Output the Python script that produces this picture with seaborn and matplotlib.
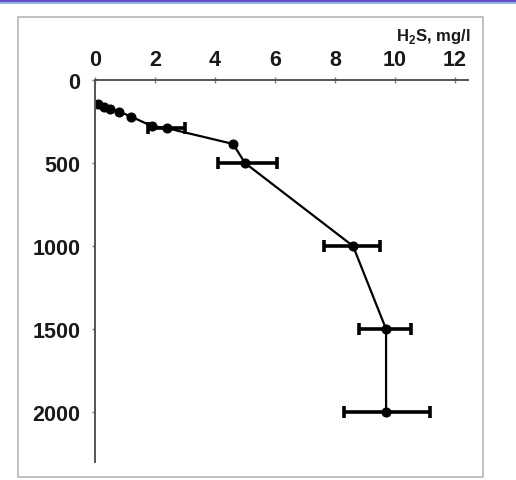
import numpy as np
import pandas as pd
import matplotlib.pyplot as plt
import seaborn as sns
from matplotlib.patches import Rectangle

# H2S concentration profile (mg/l) against depth (m)
depth = [145, 160, 175, 190, 220, 278, 290, 385, 500, 1000, 1500, 2000]
h2s = [0.1, 0.3, 0.5, 0.8, 1.2, 1.9, 2.4, 4.6, 5.0, 8.6, 9.7, 9.7]

# horizontal error bars (range of values) at selected depths
err_depth = [290, 500, 1000, 1500, 2000]
err_center = [2.4, 5.0, 8.6, 9.7, 9.7]
err_low = [1.77, 4.1, 7.63, 8.8, 8.3]
err_high = [3.0, 6.07, 9.5, 10.53, 11.17]

x_ticks = [0, 2, 4, 6, 8, 10, 12]
y_ticks = [0, 500, 1000, 1500, 2000]

sns.set_style("white")
plt.rcParams['font.family'] = ['Liberation Sans', 'DejaVu Sans']

W, H = 516, 481
fig = plt.figure(figsize=(W / 100, H / 100), dpi=100)

# outer frame and top colour band
fig.patches.append(Rectangle((18 / W, 1 - 478 / H), (483 - 18) / W, (478 - 18) / H,
                             transform=fig.transFigure, fill=False,
                             edgecolor='#b5b5b5', linewidth=1.2))
fig.patches.append(Rectangle((0, 1 - 2.5 / H), 1, 2.5 / H, transform=fig.transFigure,
                             color='#6a4cc8', linewidth=0))
fig.patches.append(Rectangle((0, 1 - 4.5 / H), 1, 2 / H, transform=fig.transFigure,
                             color='#8fb8e6', linewidth=0))

ax = fig.add_axes([95 / W, 1 - 463 / H, 373 / W, 382 / H])

df = pd.DataFrame({'h2s': h2s, 'depth': depth})
sns.lineplot(data=df, x='h2s', y='depth', sort=False, estimator=None, ax=ax,
             color='black', linewidth=1.6, marker='o', markersize=6.5,
             markeredgecolor='black')

err = np.array([np.subtract(err_center, err_low), np.subtract(err_high, err_center)])
ax.errorbar(err_center, err_depth, xerr=err, fmt='none', ecolor='black',
            elinewidth=2.6, capsize=4, capthick=2.6)

ax.set_xlim(0, 12.43)
ax.set_ylim(2300, 0)
ax.xaxis.tick_top()
ax.set_xticks(x_ticks)
ax.set_yticks(y_ticks)
ax.set_xlabel('')
ax.set_ylabel('')

for s in ['right', 'bottom']:
    ax.spines[s].set_visible(False)
for s in ['top', 'left']:
    ax.spines[s].set_color('#555555')
    ax.spines[s].set_linewidth(1.4)

ax.tick_params(axis='both', which='major', length=2.5, width=1, color='#777777',
               labelsize=15.5, labelcolor='#1a1a1a', pad=8)
ax.tick_params(axis='x', top=True, bottom=False, direction='inout', length=4, pad=5)
ax.tick_params(axis='y', left=True, direction='out')
for lbl in ax.get_xticklabels() + ax.get_yticklabels():
    lbl.set_fontweight('bold')

fig.text(470 / W, 1 - 36 / H, r'H$_{\mathregular{2}}$S, mg/l', ha='right', va='center',
         fontsize=12, fontweight='bold', color='#1a1a1a')

fig.savefig('out.png', dpi=100, facecolor='white')
